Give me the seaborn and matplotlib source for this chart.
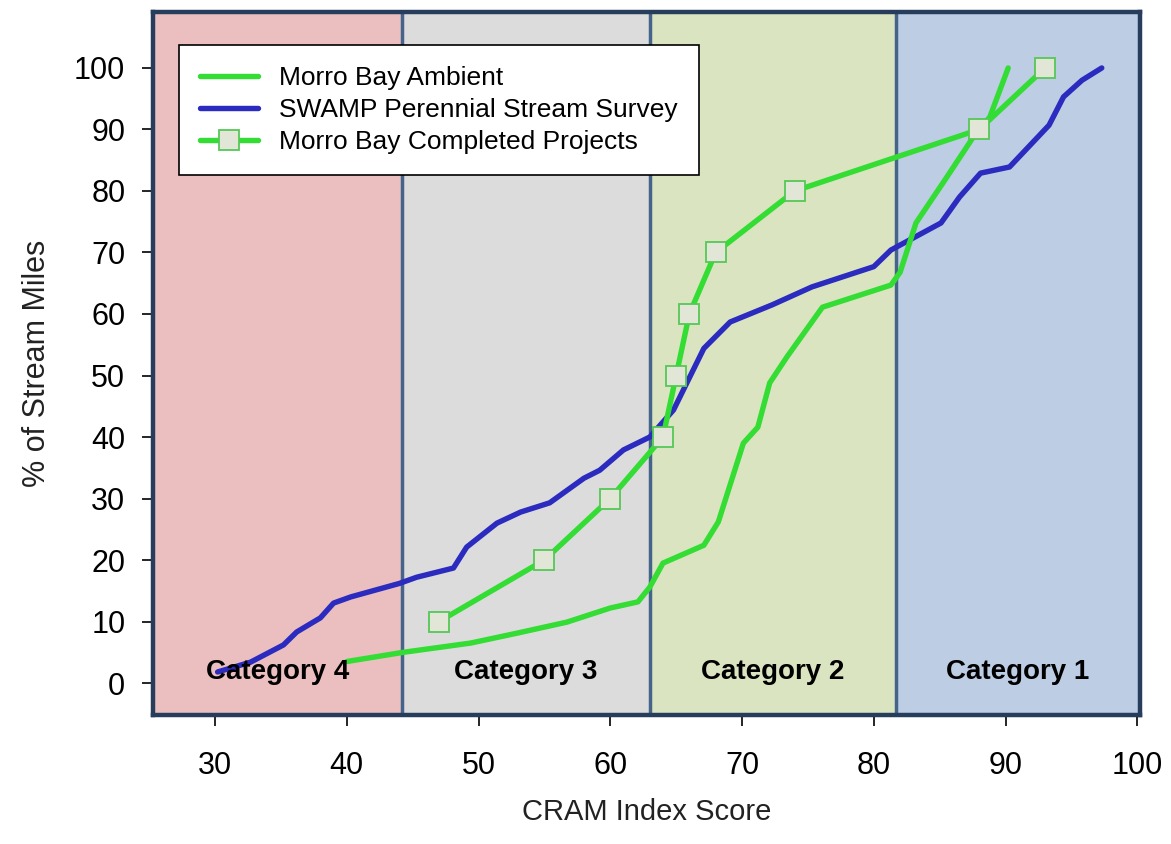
import pandas as pd
import seaborn as sns
import matplotlib.pyplot as plt

# 1. data
ambient_x = [40.0, 44.3, 49.4, 52.9, 56.7, 60.0, 62.1, 63.0, 64.0, 67.1, 68.2, 70.1, 71.2, 72.1,
             73.4, 76.1, 81.3, 82.0, 83.2, 85.4, 87.9, 88.8, 90.2]
ambient_y = [3.5, 5.0, 6.5, 8.1, 9.9, 12.2, 13.2, 15.6, 19.5, 22.4, 26.2, 39.0, 41.6, 48.8,
             53.0, 61.1, 64.7, 66.8, 74.8, 81.8, 89.9, 92.0, 100.0]

swamp_x = [30.2, 32.7, 35.2, 36.2, 38.0, 39.0, 40.3, 44.0, 45.3, 48.1, 49.1, 51.4, 53.2, 55.4,
           58.0, 59.2, 61.0, 63.0, 64.8, 67.1, 69.1, 72.3, 75.3, 80.0, 81.3, 85.1, 86.5, 88.1,
           90.3, 93.3, 94.4, 95.8, 97.3]
swamp_y = [1.8, 3.4, 6.2, 8.3, 10.6, 13.0, 14.0, 16.2, 17.2, 18.7, 22.1, 26.0, 27.8, 29.3,
           33.3, 34.6, 37.9, 40.0, 44.4, 54.4, 58.7, 61.5, 64.4, 67.7, 70.4, 74.8, 79.0, 82.9,
           83.9, 90.7, 95.3, 98.0, 100.0]

completed_x = [47, 55, 60, 64, 65, 66, 68, 74, 88, 93]
completed_y = [10, 20, 30, 40, 50, 60, 70, 80, 90, 100]

cat_bounds = [25.3, 44.2, 63.0, 81.7, 100.2]
cat_labels = ['Category 4', 'Category 3', 'Category 2', 'Category 1']
cat_colors = ['#ebbfc0', '#dcdcdc', '#dbe4c1', '#bccde4']

green = '#33dd33'
blue = '#2b2bbf'

# 2. figure
sns.set_style('white')
plt.rcParams['font.family'] = ['Liberation Sans', 'DejaVu Sans']
plt.rcParams['text.color'] = 'black'

fig = plt.figure(figsize=(11.71, 8.44), dpi=100)
ax = fig.add_axes([0.1307, 0.1528, 0.8428, 0.833])

# category bands
for i, lab in enumerate(cat_labels):
    ax.axvspan(cat_bounds[i], cat_bounds[i + 1], color=cat_colors[i], zorder=0)
    ax.text((cat_bounds[i] + cat_bounds[i + 1]) / 2, 1.8, lab, ha='center', va='center',
            fontsize=20, fontweight='heavy', color='black', zorder=5)
for b in cat_bounds[1:-1]:
    ax.axvline(b, color='#45648a', lw=2.5, zorder=1)

# lines
sns.lineplot(x=swamp_x, y=swamp_y, ax=ax, color=blue, lw=3.9, sort=False,
             estimator=None, label='SWAMP Perennial Stream Survey', zorder=3)
sns.lineplot(x=ambient_x, y=ambient_y, ax=ax, color=green, lw=3.9, sort=False,
             estimator=None, label='Morro Bay Ambient', zorder=3)
sns.lineplot(x=completed_x, y=completed_y, ax=ax, color=green, lw=3.9, sort=False,
             estimator=None, marker='s', markersize=14, markerfacecolor='#e2e6d6',
             markeredgecolor='#55c855', markeredgewidth=1.3,
             label='Morro Bay Completed Projects', zorder=4)

ax.set_xlim(cat_bounds[0], cat_bounds[-1])
ax.set_ylim(-5.2, 109.1)
ax.set_xticks(range(30, 101, 10))
ax.set_yticks(range(0, 101, 10))
ax.tick_params(axis='both', which='both', direction='out', length=8, width=1.2,
               colors='black', labelsize=22)
ax.tick_params(axis='x', pad=18, bottom=True)
ax.tick_params(axis='y', pad=12, left=True)
for s in ax.spines.values():
    s.set_color('#263d5c')
    s.set_linewidth(3.2)

ax.set_xlabel('CRAM Index Score', fontsize=21, labelpad=12, color='#222222')
ax.set_ylabel('% of Stream Miles', fontsize=22, labelpad=16, color='#222222')

# legend in the original order
handles, labels = ax.get_legend_handles_labels()
order = [1, 0, 2]
leg = ax.legend([handles[i] for i in order], [labels[i] for i in order],
                loc='upper left', bbox_to_anchor=(0.026, 0.953), borderaxespad=0,
                fontsize=19, frameon=True, fancybox=False, edgecolor='black', framealpha=1,
                handlelength=2.2, handletextpad=0.8, labelspacing=0.3, borderpad=0.8)
leg.get_frame().set_linewidth(1.2)
for t in leg.get_texts():
    t.set_color('black')

plt.savefig('out.png', dpi=100)
plt.close()
